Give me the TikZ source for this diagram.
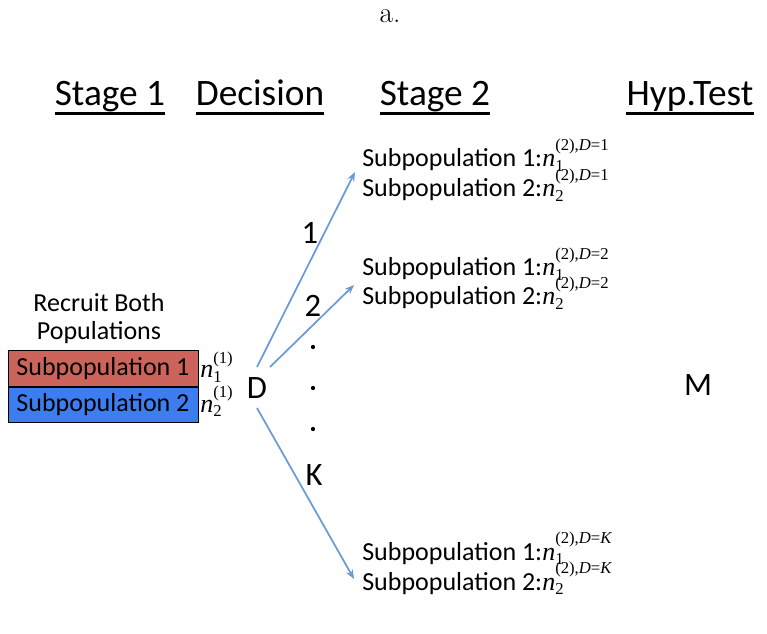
\documentclass[tikz,border=0pt]{standalone}
\usepackage{fontspec}
\newfontfamily\calibri{Carlito}
\newfontfamily\tms{Liberation Serif}
\usetikzlibrary{arrows.meta}
\definecolor{boxred}{RGB}{205,100,92}
\definecolor{boxblue}{RGB}{60,125,240}
\definecolor{armblue}{RGB}{105,155,215}
\newcommand{\scr}{\fontsize{12.5}{14}\selectfont\upshape}
\newcommand{\nvar}[3][12.5pt]{{\tms\itshape n\rlap{\raisebox{-3.5pt}{\scr #2}}\raisebox{#1}{\scr #3}}}
\tikzset{
  head/.style={font=\calibri\fontsize{28}{34}\selectfont, inner sep=0pt, anchor=base},
  hrule/.style={line width=2.2pt},
  body/.style={font=\calibri\fontsize{19.5}{21}\selectfont, inner sep=0pt},
  big/.style={font=\calibri\fontsize{24.5}{29}\selectfont, inner sep=0pt},
  popbox/.style={body, draw=black, line width=0.5pt, minimum width=142.5pt, minimum height=26.5pt},
  dot/.style={circle, fill=black, inner sep=0pt, minimum size=3.2pt},
  branch/.style={draw=armblue, line width=1.3pt, -{Stealth[length=7pt,width=5.5pt]}}
}
\begin{document}
\begin{tikzpicture}[x=0.75pt,y=-0.75pt]
  \useasboundingbox (0,0) rectangle (767,634);
  \node[font=\fontsize{22}{26}\selectfont, inner sep=0pt] (cap) at (390,16) {a.};
  % column headings
  \node[head] (s1) at (110,106) {Stage 1};
  \node[head] (dec) at (260,106) {Decision};
  \node[head] (s2) at (435,106) {Stage 2};
  \node[head] (hyp) at (690,106) {Hyp.Test};
  \foreach \h in {s1,dec,s2,hyp}
    \draw[hrule] ([yshift=-5.5pt]\h.base west) -- ([yshift=-5.5pt]\h.base east);
  % stage 1
  \node[body, align=center] (rec) at (99,319) {Recruit Both\\Populations};
  \node[popbox, fill=boxred] (sub1) at (103,368.5) {Subpopulation 1};
  \node[popbox, fill=boxblue, anchor=north] (sub2) at (sub1.south) {Subpopulation 2};
  \node[body, anchor=base west] (n1) at (200,378) {\nvar[11pt]{1}{(1)}};
  \node[body, anchor=base west] (n2) at (200,412) {\nvar[11pt]{2}{(1)}};
  % decision
  \node[big] (D) at (257,388) {D};
  \node[big] (k1) at (310,233) {1};
  \node[big] (k2) at (313,306) {2};
  \node[dot] (p1) at (313,347) {};
  \node[dot] (p2) at (313,388) {};
  \node[dot] (p3) at (313,429) {};
  \node[big] (kK) at (314,475) {K};
  % stage 2
  \node[body, anchor=base west] (t11) at (362,167) {Subpopulation 1:\nvar{1}{(2),\itshape D\upshape =1}};
  \node[body, anchor=base west] (t12) at (362,197) {Subpopulation 2:\nvar{2}{(2),\itshape D\upshape =1}};
  \node[body, anchor=base west] (t21) at (362,276) {Subpopulation 1:\nvar{1}{(2),\itshape D\upshape =2}};
  \node[body, anchor=base west] (t22) at (362,305) {Subpopulation 2:\nvar{2}{(2),\itshape D\upshape =2}};
  \node[body, anchor=base west] (tK1) at (362,560) {Subpopulation 1:\nvar{1}{(2),\itshape D\upshape =\itshape K}};
  \node[body, anchor=base west] (tK2) at (362,590) {Subpopulation 2:\nvar{2}{(2),\itshape D\upshape =\itshape K}};
  % hypothesis test
  \node[big] (M) at (698,385) {M};
  % branches
  \coordinate (o1) at (257,367);
  \coordinate (o2) at (270,367);
  \coordinate (o3) at (257,408);
  \coordinate (e1) at (355,172);
  \coordinate (e2) at (354,285);
  \coordinate (e3) at (354,579);
  \draw[branch] (o1) -- (e1);
  \draw[branch] (o2) -- (e2);
  \draw[branch] (o3) -- (e3);
\end{tikzpicture}
\end{document}
